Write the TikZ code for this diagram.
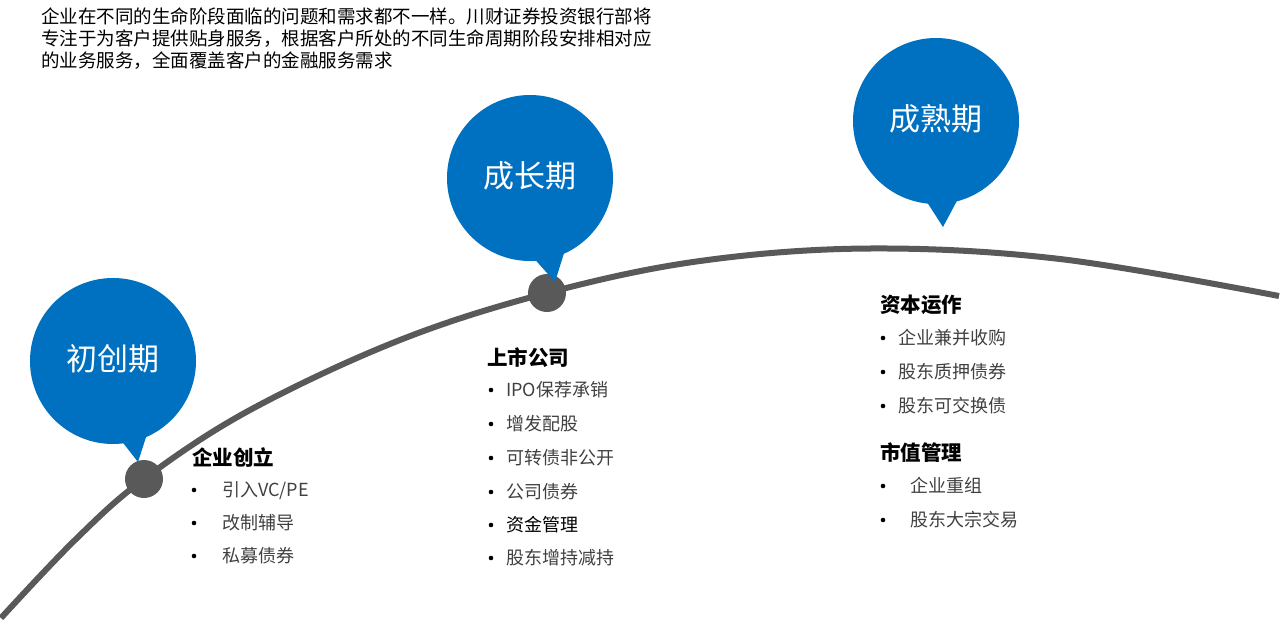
\documentclass[tikz,border=0pt]{standalone}
\usepackage{fontspec}
\newfontfamily\cjk{Noto Sans CJK SC}
\definecolor{bubblue}{HTML}{0070C0}
\definecolor{curvegray}{HTML}{595959}
\definecolor{itemgray}{HTML}{404040}
\tikzset{
  bodytxt/.style={anchor=base west,inner sep=0pt,font=\cjk\fontsize{18.5}{22}\selectfont,text=black},
  headtxt/.style={anchor=base west,inner sep=0pt,font=\cjk\bfseries\fontsize{20.5}{24}\selectfont,text=black},
  itemtxt/.style={anchor=base west,inner sep=0pt,font=\cjk\fontsize{18}{22}\selectfont,text=itemgray},
  bubtxt/.style={inner sep=0pt,font=\cjk\fontsize{31}{36}\selectfont,text=white},
  bullet/.style={circle,fill=black,inner sep=0pt,minimum size=4.6pt},
  stagedot/.style={circle,fill=curvegray,inner sep=0pt,minimum size=38pt},
}
\newcommand\myitem[5]{% name, bullet x, text x, y, text
  \node[bullet] (#1b) at (#2,#4) {};
  \node[itemtxt] (#1) at (#3,#4+6.6) {#5};
}
\begin{document}
\begin{tikzpicture}[x=1pt,y=-1pt]
\useasboundingbox (0,0) rectangle (1280,621);
% intro text
\node[bodytxt] (l1) at (41,23.5) {企业在不同的生命阶段面临的问题和需求都不一样。川财证券投资银行部将};
\node[bodytxt] (l2) at (41,45.5) {专注于为客户提供贴身服务，根据客户所处的不同生命周期阶段安排相对应};
\node[bodytxt] (l3) at (41,67.5) {的业务服务，全面覆盖客户的金融服务需求};
% curve
\draw[curvegray,line width=6pt] plot[smooth,tension=0.6] coordinates {(1,618) (75,540) (144,479) (250,410) (400,340) (547,293) (700,261) (870,248.5) (1060,259) (1279,296)};
% dots
\node[stagedot] (d1) at (144,479) {};
\node[stagedot] (d2) at (547,293) {};
% bubbles
\fill[bubblue] (113,361) circle (83);
\fill[bubblue] (113,430) -- (138,462) -- (149,428) -- cycle;
\node[bubtxt] (b1) at (113,359) {初创期};
\fill[bubblue] (530,178) circle (83);
\fill[bubblue] (531,255) -- (555,282) -- (565,250) -- cycle;
\node[bubtxt] (b2) at (530,176) {成长期};
\fill[bubblue] (936,121) circle (83);
\fill[bubblue] (925,199) -- (943,227) -- (959,197) -- cycle;
\node[bubtxt] (b3) at (936,119) {成熟期};
% group 1
\node[headtxt] (h1) at (192,465) {企业创立};
\myitem{a1}{194}{222}{490}{引入VC/PE}
\myitem{a2}{194}{222}{523}{改制辅导}
\myitem{a3}{194}{222}{556}{私募债券}
% group 2
\node[headtxt] (h2) at (487,365) {上市公司};
\myitem{c1}{491}{506}{390}{IPO保荐承销}
\myitem{c2}{491}{506}{424}{增发配股}
\myitem{c3}{491}{506}{458}{可转债非公开}
\myitem{c4}{491}{506}{492}{公司债券}
\node[bullet] (c5b) at (491,525) {};
\node[itemtxt,text=black] (c5) at (506,531.6) {资金管理};
\myitem{c6}{491}{506}{558}{股东增持减持}
% group 3
\node[headtxt] (h3) at (880,312) {资本运作};
\myitem{e1}{883}{898}{338}{企业兼并收购}
\myitem{e2}{883}{898}{372}{股东质押债券}
\myitem{e3}{883}{898}{406}{股东可交换债}
\node[headtxt] (h4) at (880,460) {市值管理};
\myitem{f1}{883}{910}{486}{企业重组}
\myitem{f2}{883}{910}{520}{股东大宗交易}
\end{tikzpicture}
\end{document}
